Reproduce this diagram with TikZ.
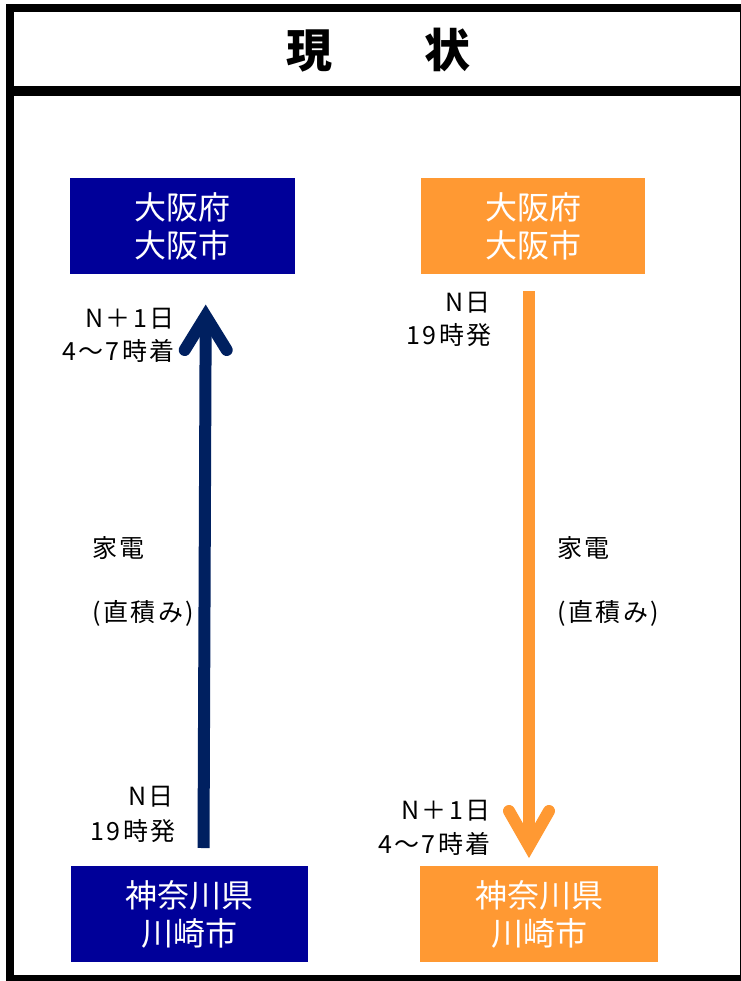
\documentclass[tikz,border=0pt]{standalone}
\usepackage{fontspec}
\newfontfamily\jp{Noto Sans CJK JP}
\newfontfamily\jplbl[LetterSpace=10]{Noto Sans CJK JP}
\definecolor{navybox}{HTML}{000099}
\definecolor{navyarrow}{HTML}{002060}
\definecolor{orangeA}{HTML}{FF9933}
\begin{document}
\begin{tikzpicture}[x=1pt,y=-1pt,
  box/.style={inner sep=0pt, text=white, align=center, font=\jp\fontsize{32}{38}\selectfont},
  lbl/.style={inner sep=0pt, text=black, font=\jplbl\fontsize{25}{30}\selectfont},
  shaft/.style={line width=12pt, line cap=butt},
  head/.style={line width=12pt, line cap=round, line join=miter}]
\useasboundingbox (0,0) rectangle (740,981);
% frame
\draw[line width=8pt] (9.5,8) rectangle (743.5,979);
\draw[line width=10pt] (9.5,91) -- (743.5,91);
\node[inner sep=0pt, font=\jp\bfseries\fontsize{46}{46}\selectfont] (title) at (378.5,50) {現　　状};
% boxes
\node[box, fill=navybox, minimum width=225pt, minimum height=96pt] (osakaL) at (182.5,226) {大阪府\\大阪市};
\node[box, fill=orangeA, minimum width=224pt, minimum height=96pt] (osakaR) at (533,226) {大阪府\\大阪市};
\node[box, fill=navybox, minimum width=237pt, minimum height=96pt] (kawaL) at (189.5,914) {神奈川県\\川崎市};
\node[box, fill=orangeA, minimum width=238pt, minimum height=96pt] (kawaR) at (539,914) {神奈川県\\川崎市};
% left arrow (up)
\coordinate (aLs) at (203.5,848);
\coordinate (aLc) at (205.7,316);
\coordinate (aLw1) at (184.7,350);
\coordinate (aLw2) at (226.7,350);
\draw[shaft, navyarrow] (aLs) -- (aLc);
\draw[head, navyarrow] (aLw1) -- (aLc) -- (aLw2);
% right arrow (down)
\coordinate (aRs) at (529,291);
\coordinate (aRc) at (529,846);
\coordinate (aRw1) at (509,811);
\coordinate (aRw2) at (549,811);
\draw[shaft, orangeA] (aRs) -- (aRc);
\draw[head, orangeA] (aRw1) -- (aRc) -- (aRw2);
% left labels
\node[lbl, anchor=east] (nL1) at (175,319) {N＋1日};
\node[lbl, anchor=east] (nL2) at (175,351) {4～7時着};
\node[lbl, anchor=west] (kdL1) at (92,548) {家電};
\node[lbl, anchor=west] (kdL2) at (92,613) {(直積み)};
\node[lbl, anchor=east] (sL1) at (174,797) {N日};
\node[lbl, anchor=east] (sL2) at (176,831) {19時発};
% right labels
\node[lbl, anchor=east] (sR1) at (491,303) {N日};
\node[lbl, anchor=east] (sR2) at (492,335) {19時発};
\node[lbl, anchor=west] (kdR1) at (557,548) {家電};
\node[lbl, anchor=west] (kdR2) at (557,613) {(直積み)};
\node[lbl, anchor=east] (nR1) at (491,811) {N＋1日};
\node[lbl, anchor=east] (nR2) at (491,844) {4～7時着};
\end{tikzpicture}
\end{document}
